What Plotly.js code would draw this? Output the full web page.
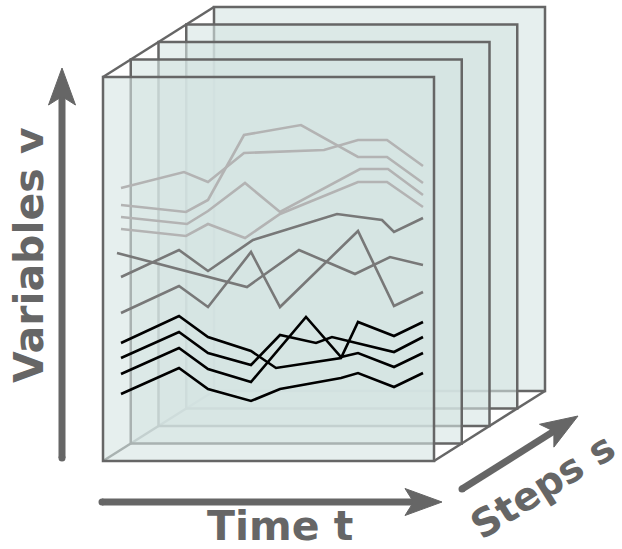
<!DOCTYPE html>
<html>
<head>
<meta charset="utf-8">
<script src="https://cdn.plot.ly/plotly-3.0.1.min.js"></script>
<style>html,body{margin:0;padding:0;background:#fff;}#chart{width:622px;height:549px;}</style>
</head>
<body>
<div id="chart"></div>
<script>
// ---- data: time t and variable values v for each series ----
const lightA_t = [0, 6.3, 8.7, 12.3, 20.3, 23.7, 26.6, 30.2];
const lightA_v = [21.2, 22.8, 21.8, 24.7, 25.0, 26.0, 26.0, 23.4];
const lightB_t = [0, 6.5, 8.7, 12.3, 18.0, 23.7, 26.6, 30.2];
const lightB_v = [19.5, 18.8, 20.0, 26.5, 27.5, 24.3, 24.3, 21.7];
const lightC_t = [0, 6.6, 8.7, 12.4, 15.9, 23.9, 26.7, 30.2];
const lightC_v = [18.3, 17.6, 18.9, 21.7, 18.8, 23.1, 23.1, 20.5];
const lightD_t = [0, 6.5, 8.7, 12.4, 15.9, 23.7, 26.6, 30.2];
const lightD_v = [17.1, 16.4, 17.6, 16.2, 18.6, 21.8, 21.8, 19.3];

const midA_t = [0, 5.8, 8.7, 13.2, 21.6, 26.1, 27.3, 30.2];
const midA_v = [12.3, 15.0, 12.9, 16.0, 18.6, 18.0, 16.8, 18.2];
const midB_t = [-0.4, 12.6, 17.8, 23.4, 26.9, 30.2];
const midB_v = [14.7, 11.3, 15.0, 12.6, 14.3, 13.5];
const midC_t = [0, 5.8, 8.7, 13.0, 15.9, 23.7, 27.3, 30.2];
const midC_v = [8.7, 11.4, 9.3, 14.8, 9.3, 16.9, 9.4, 10.8];

const darkA_t = [0, 5.8, 8.7, 13.0, 15.5, 22.0, 23.7, 27.3, 30.2];
const darkA_v = [5.7, 8.4, 6.3, 4.9, 3.2, 4.2, 7.8, 6.4, 7.8];
const darkB_t = [0, 5.8, 8.7, 13.0, 15.9, 19.5, 21.1, 27.3, 30.2];
const darkB_v = [4.2, 6.8, 4.7, 3.5, 6.5, 5.7, 6.3, 4.8, 6.3];
const darkC_t = [0, 5.8, 8.7, 13.0, 18.5, 22.0, 23.7, 27.3, 30.2];
const darkC_v = [2.6, 5.2, 3.1, 1.8, 8.3, 4.3, 4.7, 3.3, 4.7];
const darkD_t = [0, 5.8, 8.7, 13.0, 15.9, 22.0, 23.7, 27.3, 30.2];
const darkD_v = [0.6, 3.2, 1.1, -0.1, 1.1, 2.2, 2.7, 1.3, 2.7];

const axisLabels = ["Variables v", "Time t", "Steps s"];

// ---- styling ----
const LIGHT = "#b3b3b3", MID = "#787878", DARK = "#000000";
const GREY = "#666666";
const LW = 2.6;

function tr(t, v, color) {
  return {x: t, y: v, type: "scatter", mode: "lines", hoverinfo: "skip",
          line: {color: color, width: LW}};
}
const traces = [
  tr(lightA_t, lightA_v, LIGHT), tr(lightB_t, lightB_v, LIGHT),
  tr(lightC_t, lightC_v, LIGHT), tr(lightD_t, lightD_v, LIGHT),
  tr(midA_t, midA_v, MID), tr(midB_t, midB_v, MID), tr(midC_t, midC_v, MID),
  tr(darkA_t, darkA_v, DARK), tr(darkB_t, darkB_v, DARK),
  tr(darkC_t, darkC_v, DARK), tr(darkD_t, darkD_v, DARK)
];

// ---- decorative stack of panels (layout geometry) ----
const P = {x0: -1.8, x1: 31.3, yb: -6.1, yt: 32.3, dx: 2.775, dy: 1.75, n: 5};
const shapes = [];
const edge = {color: GREY, width: 2.5};
// hidden bottom-left depth edge (seen through panels)
shapes.push({type: "line", layer: "below", x0: P.x0, y0: P.yb,
             x1: P.x0 + P.dx * (P.n - 1), y1: P.yb + P.dy * (P.n - 1), line: edge});
for (let i = P.n - 1; i >= 0; i--) {
  shapes.push({type: "rect", layer: "below",
    x0: P.x0 + P.dx * i, x1: P.x1 + P.dx * i,
    y0: P.yb + P.dy * i, y1: P.yt + P.dy * i,
    fillcolor: "rgba(213,228,226,0.6)", line: edge});
}
// visible depth edges
shapes.push({type: "line", layer: "below", x0: P.x0, y0: P.yt,
             x1: P.x0 + P.dx * (P.n - 1), y1: P.yt + P.dy * (P.n - 1), line: edge});
shapes.push({type: "line", layer: "below", x0: P.x1, y0: P.yb,
             x1: P.x1 + P.dx * (P.n - 1), y1: P.yb + P.dy * (P.n - 1), line: edge});

// arrows (shaft + notched head)
function arrow(sx, sy, tx, ty) {
  const L = Math.hypot(tx - sx, ty - sy);
  const ux = (tx - sx) / L, uy = (ty - sy) / L;
  const nx = -uy, ny = ux;
  const hl = 3.7, hw = 1.35, notch = 0.85;
  const bx = tx - hl * ux, by = ty - hl * uy;
  const mx = tx - (hl - notch) * ux, my = ty - (hl - notch) * uy;
  shapes.push({type: "line", x0: sx, y0: sy, x1: mx + 0.1 * ux, y1: my + 0.1 * uy,
               line: {color: GREY, width: 7}});
  shapes.push({type: "circle", x0: sx - 0.35, x1: sx + 0.35, y0: sy - 0.35, y1: sy + 0.35,
               fillcolor: GREY, line: {width: 0}});
  const path = `M${tx},${ty} L${bx + hw * nx},${by + hw * ny} L${mx},${my} L${bx - hw * nx},${by - hw * ny} Z`;
  shapes.push({type: "path", path: path, fillcolor: GREY, line: {color: GREY, width: 1}});
}
arrow(-5.9, -5.8, -5.9, 33.2);     // variables
arrow(-1.9, -10.2, 32.1, -10.2);   // time
arrow(34.1, -8.9, 45.7, -1.6);     // steps

const font = {family: "DejaVu Sans", size: 41, color: GREY, weight: "bold"};
const annotations = [
  {x: -9.2, y: 14.5, xref: "x", yref: "y", text: axisLabels[0], textangle: -90,
   showarrow: false, font: font},
  {x: 15.9, y: -12.6, xref: "x", yref: "y", text: axisLabels[1],
   showarrow: false, font: font},
  {x: 42.1, y: -8.6, xref: "x", yref: "y", text: axisLabels[2], textangle: -32.2,
   showarrow: false, font: Object.assign({}, font, {size: 39})}
];

const layout = {
  width: 622, height: 549,
  margin: {l: 0, r: 0, t: 0, b: 0, pad: 0},
  paper_bgcolor: "#ffffff", plot_bgcolor: "#ffffff",
  showlegend: false,
  xaxis: {range: [-12.1, 50.1], visible: false, fixedrange: true},
  yaxis: {range: [-14.9, 40.0], visible: false, fixedrange: true},
  shapes: shapes,
  annotations: annotations
};
Plotly.newPlot("chart", traces, layout, {displayModeBar: false, staticPlot: true});
</script>
</body>
</html>
